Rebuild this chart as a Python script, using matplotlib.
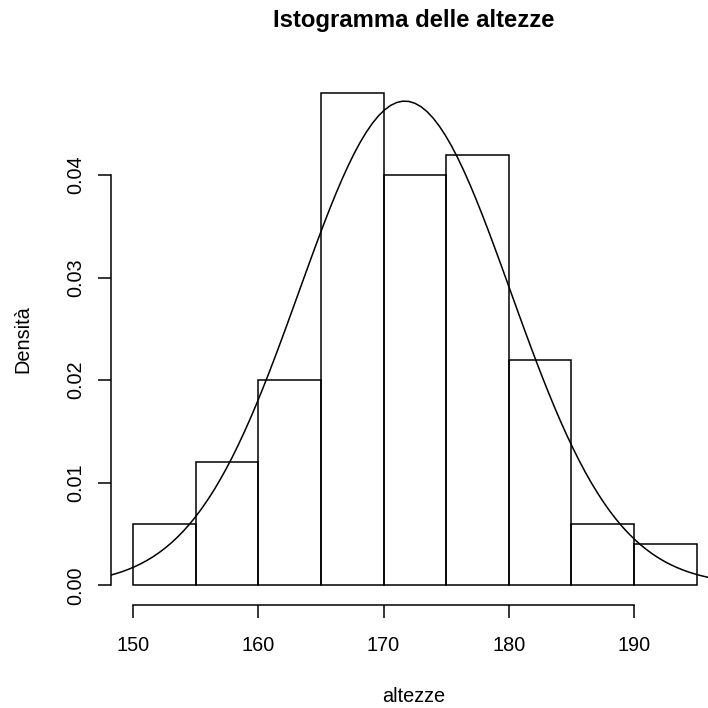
import numpy as np
import matplotlib
matplotlib.use("Agg")
import matplotlib.pyplot as plt

plt.rcParams['font.family'] = ['Liberation Sans', 'DejaVu Sans']

# dati dell'istogramma (densità per classe di ampiezza 5)
bin_edges = [150, 155, 160, 165, 170, 175, 180, 185, 190, 195]
densita = [0.006, 0.012, 0.020, 0.048, 0.040, 0.042, 0.022, 0.006, 0.004]

# parametri della normale sovrapposta
media = 171.7
dev_std = 8.45

x_ticks = [150, 160, 170, 180, 190]
y_ticks = [0.00, 0.01, 0.02, 0.03, 0.04]

W = H = 708
fig = plt.figure(figsize=(W / 100, H / 100), dpi=100)

# area del grafico in pixel (stile R, parte destra tagliata)
left_px, right_px, top_px, bottom_px = 110.5, 719.2, 73.3, 605.0
ax = fig.add_axes([left_px / W, 1 - bottom_px / H,
                   (right_px - left_px) / W, (bottom_px - top_px) / H])

lw = 1.1
ax.bar(bin_edges[:-1], densita, width=np.diff(bin_edges), align='edge',
       fill=False, edgecolor='black', linewidth=lw)

xlim = (148.2, 196.8)
ylim = (-0.00192, 0.04992)
xs = np.linspace(xlim[0], xlim[1], 101)
ys = np.exp(-0.5 * ((xs - media) / dev_std) ** 2) / (dev_std * np.sqrt(2 * np.pi))
ax.plot(xs, ys, color='black', linewidth=lw)

ax.set_xlim(*xlim)
ax.set_ylim(*ylim)

for s in ['top', 'right']:
    ax.spines[s].set_visible(False)
ax.spines['left'].set_bounds(0, 0.04)
ax.spines['bottom'].set_bounds(150, 190)
ax.spines['left'].set_linewidth(lw)
ax.spines['bottom'].set_linewidth(lw)

ax.set_xticks(x_ticks)
ax.set_xticklabels([str(t) for t in x_ticks])
ax.set_yticks(y_ticks)
ax.set_yticklabels([f"{t:.2f}" for t in y_ticks], rotation=90, va='center')
ax.tick_params(direction='out', length=9.4, width=lw, labelsize=14.3)
ax.tick_params(axis='x', pad=13)
ax.tick_params(axis='y', pad=9)

fig.text(414 / W, 1 - 27.5 / H, "Istogramma delle altezze", ha='center',
         va='baseline', fontsize=17.2, fontweight='bold')
fig.text(414 / W, 1 - 702 / H, "altezze", ha='center', va='baseline', fontsize=14.3)
fig.text(28.5 / W, 1 - 339 / H, "Densità", rotation=90, rotation_mode='anchor',
         ha='center', va='baseline', fontsize=14.3)

fig.savefig("out.png", dpi=100)
